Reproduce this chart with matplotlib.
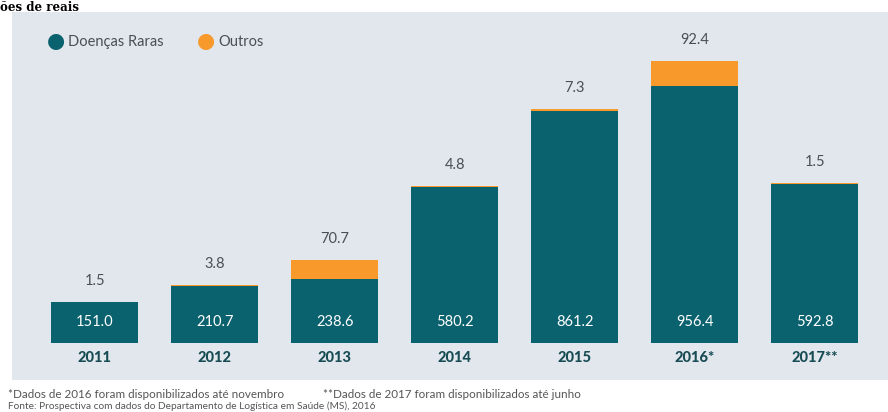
import matplotlib.pyplot as plt
from matplotlib.patches import Rectangle

years = ["2011", "2012", "2013", "2014", "2015", "2016*", "2017**"]
raras = [151.0, 210.7, 238.6, 580.2, 861.2, 956.4, 592.8]
outros = [1.5, 3.8, 70.7, 4.8, 7.3, 92.4, 1.5]

teal = "#0b626f"
orange = "#f7992b"
panel = "#e2e7ed"
txt = "#4a4f55"

plt.rcParams['font.family'] = ['Lato', 'DejaVu Sans']

fig = plt.figure(figsize=(8.88, 4.12), dpi=100)
fig.patch.set_facecolor("white")

# grey panel behind the chart
fig.patches.append(Rectangle((12/888, 1-380/412), 1, (380-12)/412,
                             transform=fig.transFigure, facecolor=panel,
                             edgecolor="none", zorder=-1))

ax = fig.add_axes([12/888, 1-380/412, 876/888, 368/412])
ax.set_zorder(2)
ax.set_facecolor("none")
x = list(range(len(years)))
ax.bar(x, raras, width=0.725, color=teal, zorder=2)
ax.bar(x, outros, bottom=raras, width=0.725, color=orange, zorder=2)
ax.set_xlim(-0.69, 6.61)
ax.set_ylim(-137.5, 1230.5)
ax.axis("off")

for i in x:
    ax.text(i, 78, "%.1f" % raras[i], ha="center", va="center",
            color="white", fontsize=10.5)
    ax.annotate("%.1f" % outros[i], (i, raras[i] + outros[i]),
                xytext=(0, 10), textcoords="offset points",
                ha="center", va="bottom", color=txt, fontsize=10.5)
    ax.text(i, -55, years[i], ha="center", va="center", color="#174c55",
            fontsize=10.5, fontweight="black")

# legend
fig.text(56/888, 1-41/412, "\u25cf", color=teal, fontsize=15,
         ha="center", va="center", family="DejaVu Sans")
fig.text(68/888, 1-42/412, "Doenças Raras", color=txt, fontsize=10.5,
         va="center")
fig.text(206/888, 1-41/412, "\u25cf", color=orange, fontsize=15,
         ha="center", va="center", family="DejaVu Sans")
fig.text(218/888, 1-42/412, "Outros", color=txt, fontsize=10.5,
         va="center")

# title remnant at the very top
fig.text(0, 1-1/412, "ões de reais", fontsize=8.5, fontweight="bold",
         family="DejaVu Serif", va="top", color="black")

fig.text(8/888, 1-395/412,
         "*Dados de 2016 foram disponibilizados até novembro",
         fontsize=8.4, color="#555555", va="center")
fig.text(323/888, 1-395/412,
         "**Dados de 2017 foram disponibilizados até junho",
         fontsize=8.4, color="#555555", va="center")
fig.text(8/888, 1-406/412,
         "Fonte: Prospectiva com dados do Departamento de Logística em Saúde (MS), 2016",
         fontsize=7.3, color="#555555", va="center")

fig.savefig("out.png", dpi=100, facecolor="white")
